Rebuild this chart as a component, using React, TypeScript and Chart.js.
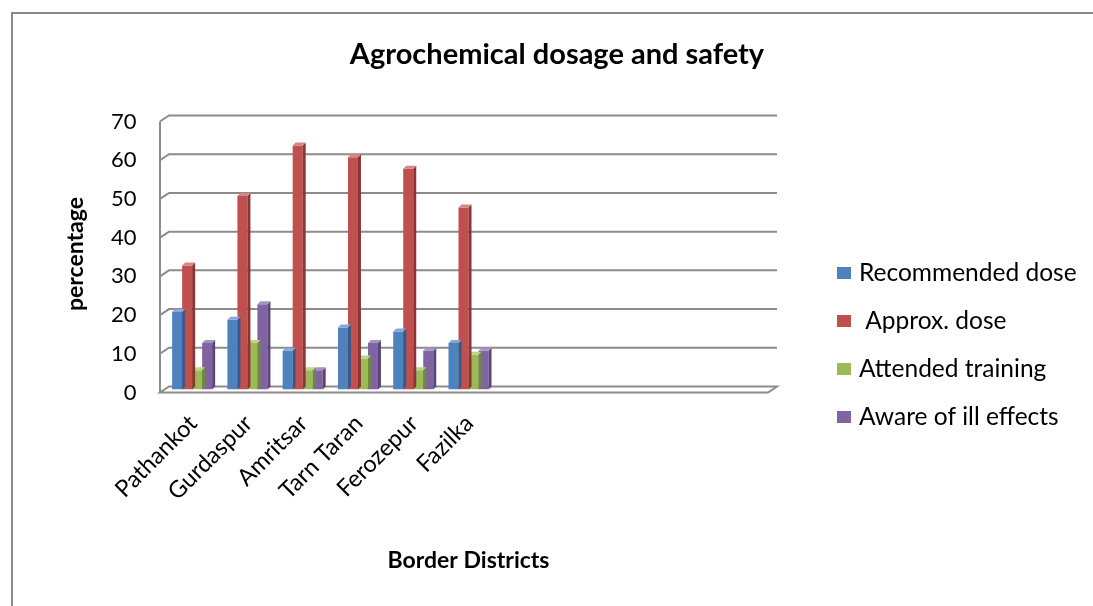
import React, { useEffect, useRef } from "react";
import { Chart, registerables } from "chart.js";

Chart.register(...registerables);

// District categories; the spare slots keep the empty right half of the floor
const districts = ["Pathankot", "Gurdaspur", "Amritsar", "Tarn Taran", "Ferozepur", "Fazilka"];
const spareSlots = ["", "", "", "", ""];

// Percentages per district
const recommendedDose = [20, 18, 10, 16, 15, 12];
const approxDose = [32, 50, 63, 60, 57, 47];
const attendedTraining = [5, 12, 5, 8, 5, 9];
const awareOfIllEffects = [12, 22, 5, 12, 10, 10];

const seriesLabels = ["Recommended dose", " Approx. dose", "Attended training", "Aware of ill effects"];

const yMin = 0;
const yMax = 70;
const yStep = 10;

const FONT = "Lato, 'Open Sans', sans-serif";

// front / side / top colours for each series
const faces = [
  { front: "#4f81bd", side: "#36598a", top: "#86a7d4" },
  { front: "#c0504d", side: "#8a3533", top: "#d88683" },
  { front: "#9bbb59", side: "#6f8a3c", top: "#bcd48d" },
  { front: "#8064a2", side: "#5b4577", top: "#a692c2" },
];

const DX = 4.5; // half depth of the 3D box, horizontal
const DY = 3; // half depth of the 3D box, vertical
const BAR_DEPTH = 3;
const GRID = "#8c8c8c";

const framePlugin = {
  id: "frame3d",
  beforeDraw(chart: any) {
    const ctx = chart.ctx;
    ctx.save();
    ctx.strokeStyle = "#8a8a8a";
    ctx.lineWidth = 2;
    ctx.strokeRect(12, 13, chart.width + 20, chart.height + 20);
    ctx.restore();
  },
  beforeDatasetsDraw(chart: any) {
    const ctx = chart.ctx;
    const { left, right } = chart.chartArea;
    const y = chart.scales.y;
    ctx.save();
    ctx.strokeStyle = GRID;
    ctx.lineWidth = 2;
    ctx.lineJoin = "miter";
    for (let v = yMin + yStep; v <= yMax; v += yStep) {
      const py = y.getPixelForValue(v);
      ctx.beginPath();
      ctx.moveTo(left - DX, py + DY);
      ctx.lineTo(left + DX, py - DY);
      ctx.lineTo(right + DX, py - DY);
      ctx.stroke();
    }
    const p0 = y.getPixelForValue(yMin);
    const pTop = y.getPixelForValue(yMax);
    // floor slab
    ctx.beginPath();
    ctx.moveTo(left - DX, p0 + DY);
    ctx.lineTo(right - DX, p0 + DY);
    ctx.lineTo(right + DX, p0 - DY);
    ctx.lineTo(left + DX, p0 - DY);
    ctx.closePath();
    ctx.stroke();
    // left wall edge
    ctx.beginPath();
    ctx.moveTo(left - DX, p0 + DY);
    ctx.lineTo(left - DX, pTop + DY);
    ctx.stroke();
    ctx.restore();
  },
  afterDatasetDraw(chart: any, args: any) {
    const ctx = chart.ctx;
    const f = faces[args.index];
    ctx.save();
    args.meta.data.forEach((el: any) => {
      const { x, y, base, width } = el.getProps(["x", "y", "base", "width"], true);
      const l = x - width / 2;
      const r = x + width / 2;
      ctx.fillStyle = f.side;
      ctx.beginPath();
      ctx.moveTo(r, y);
      ctx.lineTo(r + BAR_DEPTH, y - BAR_DEPTH);
      ctx.lineTo(r + BAR_DEPTH, base - BAR_DEPTH);
      ctx.lineTo(r, base);
      ctx.closePath();
      ctx.fill();
      ctx.fillStyle = f.top;
      ctx.beginPath();
      ctx.moveTo(l, y);
      ctx.lineTo(l + BAR_DEPTH, y - BAR_DEPTH);
      ctx.lineTo(r + BAR_DEPTH, y - BAR_DEPTH);
      ctx.lineTo(r, y);
      ctx.closePath();
      ctx.fill();
    });
    ctx.restore();
  },
  afterDraw(chart: any) {
    const ctx = chart.ctx;
    ctx.save();
    ctx.font = `24.5px ${FONT}`;
    ctx.textBaseline = "middle";
    ctx.textAlign = "left";
    chart.data.datasets.forEach((ds: any, i: number) => {
      const cy = 273 + i * 48;
      ctx.fillStyle = faces[i].front;
      ctx.fillRect(837, cy - 6, 14, 12);
      ctx.fillStyle = "#000";
      ctx.fillText(ds.label, 859, cy);
    });
    ctx.restore();
  },
};

export default function App() {
  const canvasRef = useRef<HTMLCanvasElement | null>(null);

  useEffect(() => {
    if (!canvasRef.current) return;
    const series = [recommendedDose, approxDose, attendedTraining, awareOfIllEffects];
    const chart = new Chart(canvasRef.current, {
      type: "bar",
      data: {
        labels: [...districts, ...spareSlots],
        datasets: series.map((values, i) => ({
          label: seriesLabels[i],
          data: values,
          backgroundColor: faces[i].front,
          borderWidth: 0,
          categoryPercentage: 0.724,
          barPercentage: 1,
        })),
      },
      options: {
        animation: false,
        responsive: false,
        devicePixelRatio: 1,
        layout: { padding: { left: 21, right: 0, top: 0, bottom: 0 } },
        plugins: {
          legend: { display: false },
          tooltip: { enabled: false },
          title: {
            display: true,
            text: "Agrochemical dosage and safety",
            color: "#000",
            font: { family: FONT, size: 29, weight: "bold" },
            padding: { top: 37.6, bottom: 46.1 },
          },
        },
        scales: {
          x: {
            grid: { display: false, drawTicks: false },
            border: { display: false },
            ticks: {
              color: "#000",
              font: { family: FONT, size: 23.5 },
              minRotation: 45,
              maxRotation: 45,
              autoSkip: false,
              padding: 20,
              labelOffset: 1,
            },
            title: {
              display: true,
              text: "Border Districts",
              color: "#000",
              font: { family: FONT, size: 23, weight: "bold" },
              padding: { top: 0, bottom: 32 },
            },
            afterFit: (s: any) => {
              s.height = 216.5;
            },
          },
          y: {
            min: yMin,
            max: yMax,
            grid: { display: false, drawTicks: false },
            border: { display: false },
            ticks: {
              stepSize: yStep,
              color: "#000",
              font: { family: FONT, size: 22 },
              padding: 28,
              labelOffset: 3,
            },
            title: {
              display: true,
              text: "percentage",
              color: "#000",
              font: { family: FONT, size: 23, weight: "bold" },
              padding: { top: 41, bottom: 0 },
            },
            afterFit: (s: any) => {
              s.width = 143.5;
            },
          },
          legendSpace: {
            type: "linear",
            position: "right",
            display: true,
            grid: { display: false, drawTicks: false },
            border: { display: false },
            ticks: { display: false },
            afterFit: (s: any) => {
              s.width = 320.5;
            },
          },
        },
      } as any,
      plugins: [framePlugin],
    });
    return () => chart.destroy();
  }, []);

  return (
    <div style={{ position: "fixed", left: 0, top: 0, width: 1093, height: 606, background: "#fff" }}>
      <canvas ref={canvasRef} width={1093} height={606} style={{ display: "block" }} />
    </div>
  );
}
